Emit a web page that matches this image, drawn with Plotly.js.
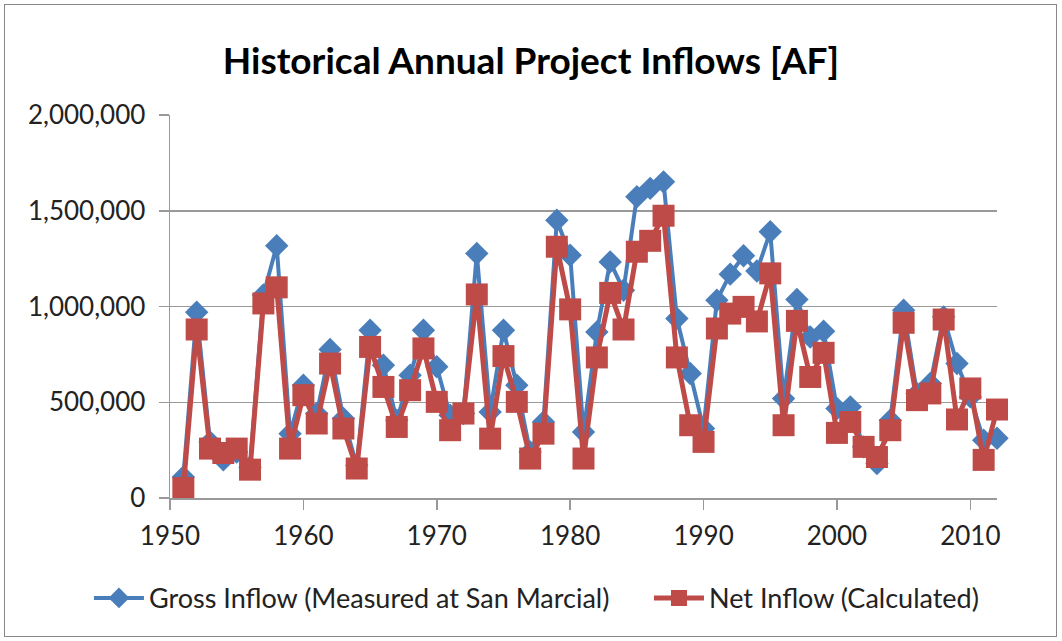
<!DOCTYPE html>
<html>
<head>
<meta charset="utf-8">
<script src="https://cdn.plot.ly/plotly-3.0.1.min.js"></script>
<style>
html,body{margin:0;padding:0;background:#fff;}
#chart{width:1062px;height:641px;}
#frame{position:absolute;left:4px;top:4px;width:1051px;height:631px;border:1.5px solid #888;pointer-events:none;}
</style>
</head>
<body>
<div id="chart"></div>
<div id="frame"></div>
<script>
const years = [1951,1952,1953,1954,1955,1956,1957,1958,1959,1960,
  1961,1962,1963,1964,1965,1966,1967,1968,1969,1970,
  1971,1972,1973,1974,1975,1976,1977,1978,1979,1980,
  1981,1982,1983,1984,1985,1986,1987,1988,1989,1990,
  1991,1992,1993,1994,1995,1996,1997,1998,1999,2000,
  2001,2002,2003,2004,2005,2006,2007,2008,2009,2010,
  2011,2012];
const grossInflow = [110000,970000,293000,200000,240000,160000,1060000,1317000,336000,589000,
  441000,776000,415000,171000,876000,693000,406000,641000,876000,685000,
  432000,441000,1277000,449000,876000,589000,240000,397000,1450000,1268000,
  345000,867000,1233000,1085000,1573000,1617000,1651000,937000,650000,363000,
  1033000,1169000,1265000,1185000,1390000,519000,1037000,841000,871000,467000,
  476000,267000,180000,406000,981000,546000,598000,946000,702000,528000,
  302000,312000];
const netInflow = [52000,880000,258000,235000,258000,148000,1016000,1100000,258000,537000,
  389000,702000,363000,154000,789000,580000,371000,563000,781000,502000,
  354000,441000,1063000,310000,741000,502000,206000,336000,1312000,985000,
  206000,734000,1071000,880000,1286000,1343000,1474000,734000,380000,293000,
  885000,963000,998000,922000,1173000,380000,925000,632000,758000,340000,
  397000,267000,214000,354000,915000,511000,546000,932000,410000,572000,
  199000,462000];
const seriesNames = ["Gross Inflow (Measured at San Marcial)", "Net Inflow (Calculated)"];
const xTicks = [1950,1960,1970,1980,1990,2000,2010];
const yTicks = [0,500000,1000000,1500000,2000000];
const yTickText = ["0","500,000","1,000,000","1,500,000","2,000,000"];

const font = "Lato, 'Open Sans', sans-serif";
const traces = [
  {x: years, y: grossInflow, name: seriesNames[0] + '\u00a0\u00a0\u00a0\u00a0\u00a0', type: 'scatter', mode: 'lines+markers',
   cliponaxis: false,
   line: {color: '#4A7EBB', width: 4},
   marker: {symbol: 'diamond', size: 18, color: '#4A7EBB'}},
  {x: years, y: netInflow, name: seriesNames[1], type: 'scatter', mode: 'lines+markers',
   cliponaxis: false,
   line: {color: '#BE4B48', width: 5},
   marker: {symbol: 'square', size: 22, color: '#BE4B48'}}
];
const layout = {
  width: 1062, height: 641,
  margin: {l: 170, r: 65, t: 115, b: 143},
  paper_bgcolor: '#fff', plot_bgcolor: '#fff',
  title: {text: 'Historical Annual Project Inflows [AF]', x: 0.5, xanchor: 'center', y: 0.905, yanchor: 'middle',
          font: {family: font, size: 37, color: '#000', weight: 'bold'}},
  font: {family: font, size: 26, color: '#222'},
  showlegend: true,
  legend: {orientation: 'h', x: -0.098, xanchor: 'left', y: -0.262, yanchor: 'middle',
           font: {family: font, size: 27, color: '#222'}, itemwidth: 50, tracegroupgap: 0},
  xaxis: {range: [1950, 2012], tickvals: xTicks, ticktext: xTicks.map(String),
          showgrid: false, zeroline: false, showline: true, linecolor: '#999', linewidth: 1.5,
          ticks: 'outside', ticklen: 10, tickcolor: '#999', tickwidth: 1.5,
          ticklabelstandoff: 4,
          tickfont: {family: font, size: 26, color: '#222'}},
  yaxis: {range: [0, 2000000], tickvals: yTicks, ticktext: yTickText,
          showgrid: true, gridcolor: '#999', gridwidth: 1.5, zeroline: false,
          showline: true, linecolor: '#999', linewidth: 1.5,
          ticks: 'outside', ticklen: 10, tickcolor: '#999', tickwidth: 1.5,
          ticklabelstandoff: 8,
          tickfont: {family: font, size: 26, color: '#222'}}
};
Plotly.newPlot('chart', traces, layout, {staticPlot: true, displayModeBar: false});
</script>
</body>
</html>
